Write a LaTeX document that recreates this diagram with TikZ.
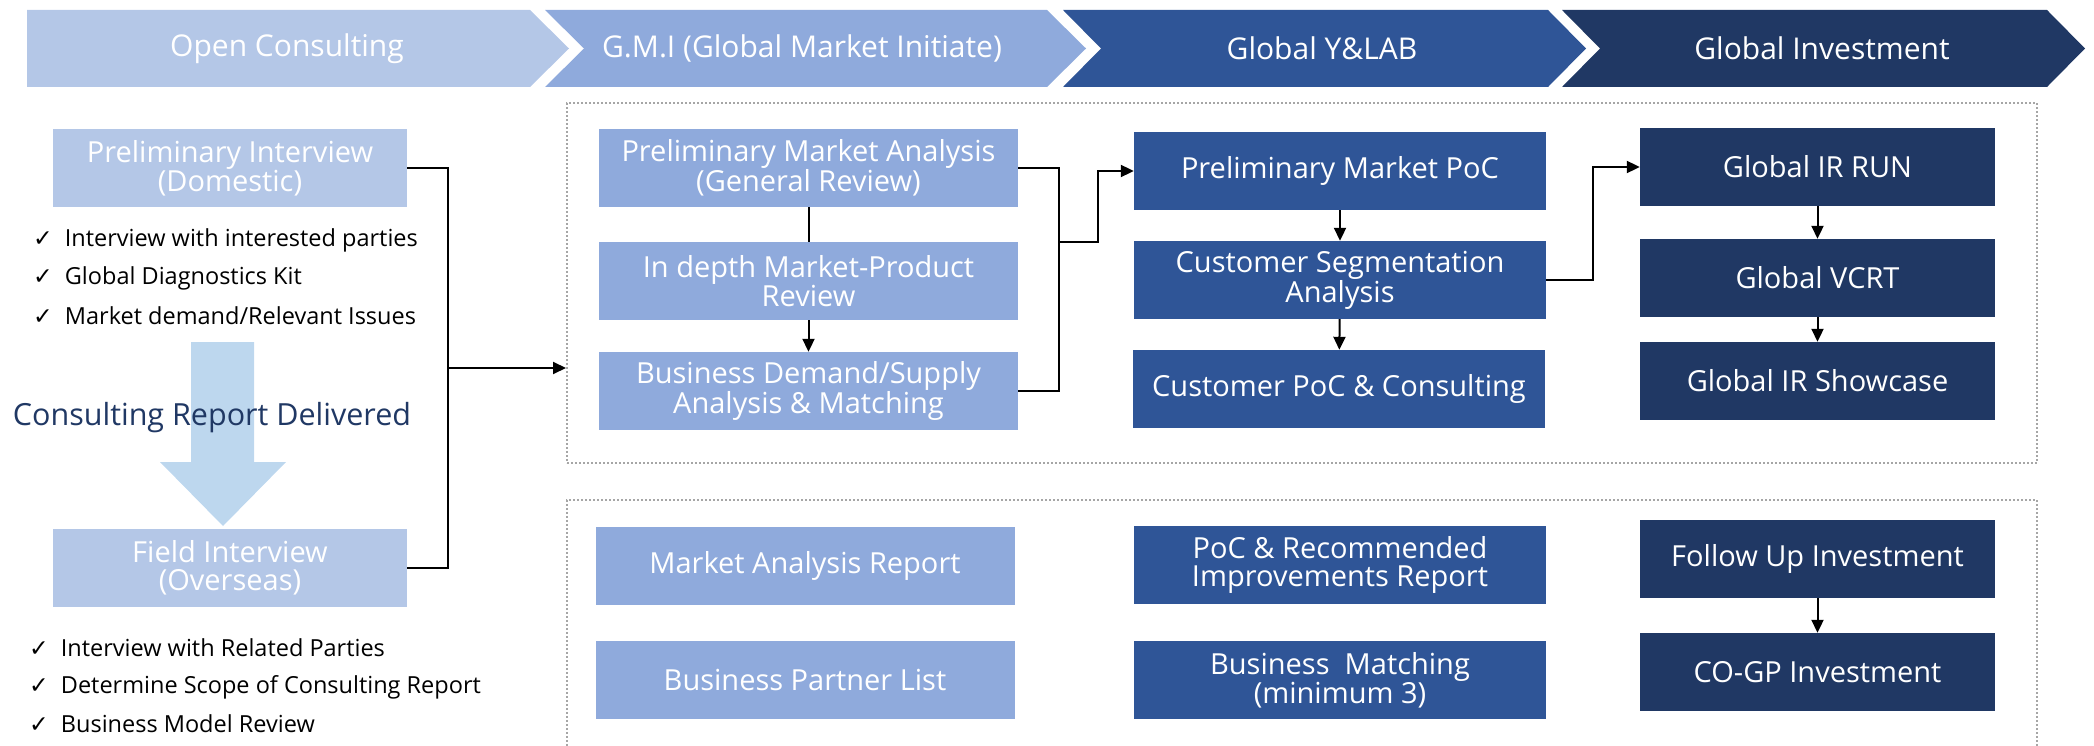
\documentclass[tikz,border=0pt]{standalone}
\usepackage{fontspec}
\setmainfont{Open Sans}
\newfontfamily\checkfont{DejaVu Sans}
\usetikzlibrary{arrows.meta}
\usetikzlibrary{positioning}

\definecolor{ocblue}{HTML}{B4C7E7}
\definecolor{gmiblue}{HTML}{8FAADC}
\definecolor{labblue}{HTML}{2F5597}
\definecolor{invblue}{HTML}{203864}
\definecolor{downblue}{HTML}{BDD7EE}
\definecolor{framegray}{HTML}{A6A6A6}

\tikzset{
  stagebox/.style={rectangle, minimum height=78pt, inner sep=0pt, text=white, align=center, font=\fontsize{29}{28}\selectfont},
  ocbox/.style={stagebox, fill=ocblue, minimum width=354pt},
  gmibox/.style={stagebox, fill=gmiblue, minimum width=419pt},
  labbox/.style={stagebox, fill=labblue, minimum width=412pt},
  invbox/.style={stagebox, fill=invblue, minimum width=355pt},
  headtext/.style={text=white, font=\fontsize{30}{32}\selectfont},
  checkitem/.style={anchor=west, inner sep=0pt, font=\fontsize{23.5}{25}\selectfont},
  dotframe/.style={rectangle, draw=framegray, line width=2pt, dash pattern=on 2pt off 2pt, inner sep=0pt},
  wire/.style={line width=2pt},
  flow/.style={wire, -{Triangle[length=13pt,width=12pt]}}
}

\begin{document}
\begin{tikzpicture}[x=1pt,y=-1pt]
\useasboundingbox (0,0) rectangle (2094,746);

% stage headers
\fill[ocblue] (27,10) -- (530,10) -- (569,48.5) -- (530,87) -- (27,87) -- cycle;
\fill[gmiblue] (545,10) -- (1047,10) -- (1086,48.5) -- (1047,87) -- (545,87) -- (584,48.5) -- cycle;
\fill[labblue] (1063,10) -- (1548,10) -- (1586,48.5) -- (1548,87) -- (1063,87) -- (1101,48.5) -- cycle;
\fill[invblue] (1562,10) -- (2047,10) -- (2085,48.5) -- (2047,87) -- (1562,87) -- (1600,48.5) -- cycle;
\node[headtext] (hoc) at (287,48.5) {Open Consulting};
\node[headtext] (hgmi) at (802,48.5) {G.M.I (Global Market Initiate)};
\node[headtext] (hlab) at (1322,48.5) {Global Y\&LAB};
\node[headtext] (hinv) at (1822,48.5) {Global Investment};

% open consulting
\fill[downblue] (191,342) -- (254,342) -- (254,462) -- (286,462) -- (223,526) -- (160,462) -- (191,462) -- cycle;
\node[ocbox] (pint) at (230,168) {Preliminary Interview\\(Domestic)};
\node[ocbox] (fint) at (230,568) {Field Interview\\(Overseas)};
\node[text=invblue, font=\fontsize{30.5}{32}\selectfont] (crd) at (212,418) {Consulting Report Delivered};

\node[checkitem] (ca1) at (33,240) {{\checkfont ✓}\hspace{12pt}Interview with interested parties};
\node[checkitem] (ca2) at (33,278) {{\checkfont ✓}\hspace{12pt}Global Diagnostics Kit};
\node[checkitem] (ca3) at (33,316) {{\checkfont ✓}\hspace{12pt}Market demand/Relevant Issues};
\node[checkitem] (cb1) at (29,648) {{\checkfont ✓}\hspace{12pt}Interview with Related Parties};
\node[checkitem] (cb2) at (29,687) {{\checkfont ✓}\hspace{12pt}Determine Scope of Consulting Report};
\node[checkitem] (cb3) at (29,724) {{\checkfont ✓}\hspace{12pt}Business Model Review};

% frames
\node[dotframe, minimum width=1470pt, minimum height=360pt] (topfr) at (1302,283) {};
\node[dotframe, minimum width=1470pt, minimum height=280pt] (botfr) at (1302,640) {};

% process row
\node[gmibox] (pma) at (808.5,168) {Preliminary Market Analysis\\(General Review)};
\node[gmibox] (idr) at (808.5,281) {In depth Market-Product\\Review};
\node[gmibox] (bds) at (808.5,391) {Business Demand/Supply\\Analysis \& Matching};
\node[labbox] (pmp) at (1340,171) {Preliminary Market PoC};
\node[labbox] (csa) at (1340,280) {Customer Segmentation\\Analysis};
\node[labbox] (cpc) at (1339,389) {Customer PoC \& Consulting};
\node[invbox] (irr) at (1817.5,167) {Global IR RUN};
\node[invbox] (vcrt) at (1817.5,278) {Global VCRT};
\node[invbox] (irs) at (1817.5,381) {Global IR Showcase};

% output row
\node[gmibox] (mar) at (805,566) {Market Analysis Report};
\node[gmibox] (bpl) at (805,680) {Business Partner List};
\node[labbox] (prr) at (1340,565) {PoC \& Recommended\\Improvements Report};
\node[labbox] (bmt) at (1340,680) {Business~~Matching\\(minimum 3)};
\node[invbox] (fui) at (1817.5,559) {Follow Up Investment};
\node[invbox] (cogp) at (1817.5,672) {CO-GP Investment};

% connectors
\coordinate (jl) at (448,368);
\draw[wire] (pint.east) -| (jl) |- (fint.east);
\draw[flow] (jl) -- (jl -| topfr.west);

\coordinate (jg) at (1059,242);
\draw[wire] (pma) -- (idr);
\draw[flow] (idr) -- (bds);
\draw[wire] (pma.east) -| (jg) |- (bds.east);
\draw[flow] (jg) -- ++(39,0) |- (pmp.west);

\draw[flow] (pmp) -- (csa);
\draw[flow] (csa) -- (cpc);
\draw[flow] (csa.east) -- ++(47,0) |- (irr.west);

\draw[flow] (irr) -- (vcrt);
\draw[flow] (vcrt) -- (irs);
\draw[flow] (fui) -- (cogp);

\end{tikzpicture}
\end{document}
